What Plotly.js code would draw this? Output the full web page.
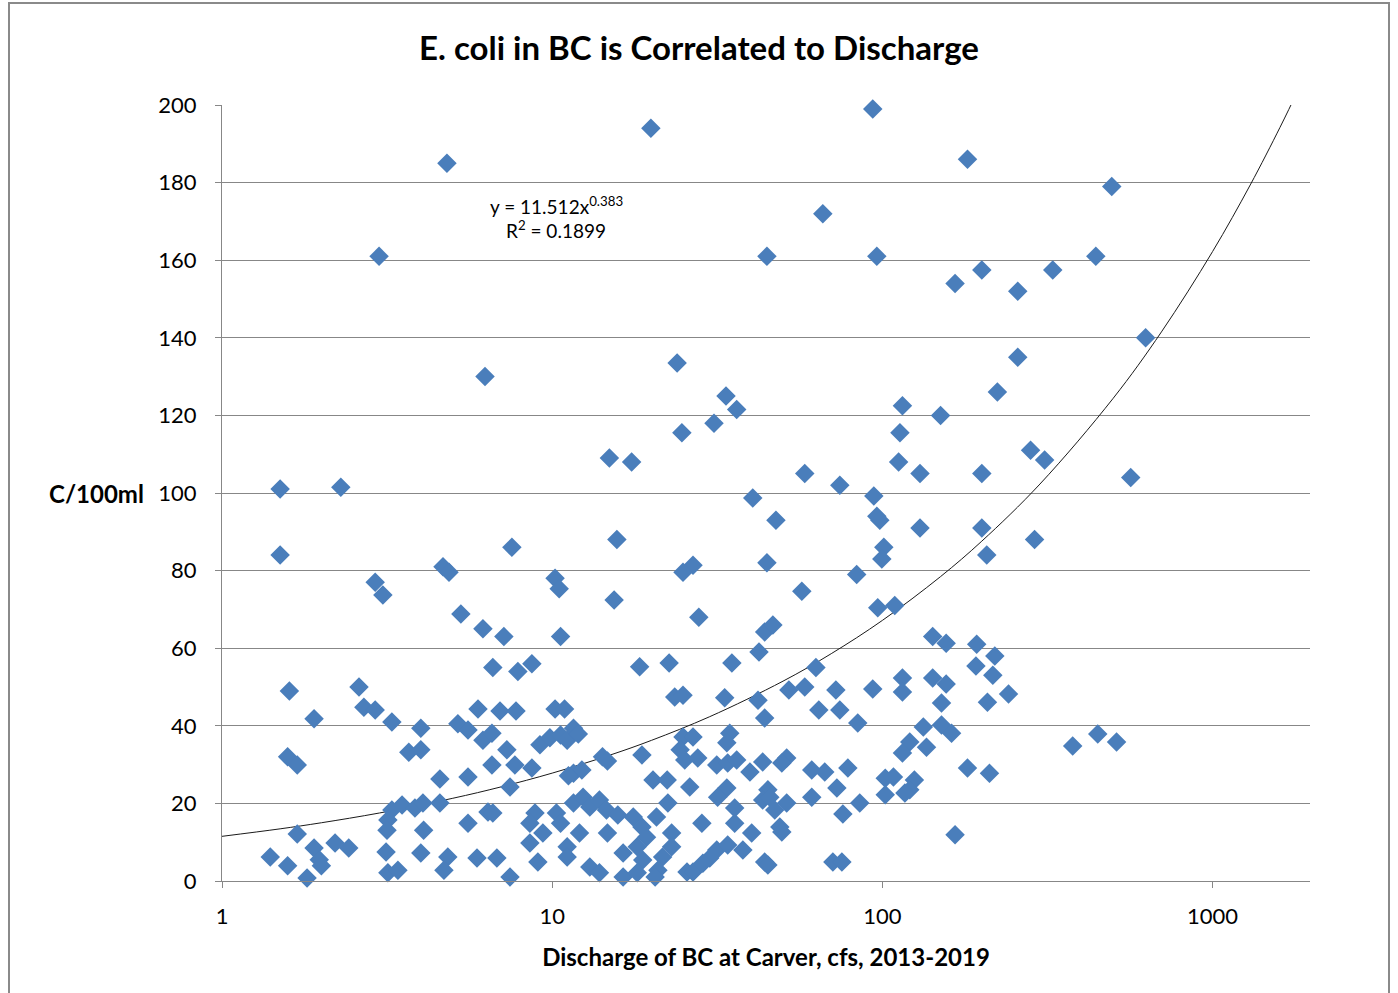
<!DOCTYPE html>
<html>
<head>
<meta charset="utf-8">
<script src="https://cdn.plot.ly/plotly-3.0.1.min.js"></script>
<style>
  html, body { margin: 0; padding: 0; background: #fff; }
  #wrap { position: relative; width: 1398px; height: 993px; }
  #chart { width: 1398px; height: 993px; }
  #frame { position: absolute; left: 8px; top: 2px; width: 1382px; height: 1000px;
           border: 2px solid #8a8a8a; pointer-events: none; box-sizing: border-box; }
</style>
</head>
<body>
<div id="wrap">
  <div id="chart"></div>
  <div id="frame"></div>
</div>
<script>
// Discharge of BC at Carver (cfs) and E. coli (C/100ml)
const discharge = [
  4.80, 19.9, 2.99, 93.5, 181, 495, 66.0, 44.7, 96.2, 443, 166, 200, 328, 257, 627, 257,
  6.26, 23.9, 33.6, 36.2, 30.9, 24.7, 115, 113, 150, 223, 281, 310, 14.9, 17.4, 112, 58.2,
  130, 200, 565, 1.50, 2.29, 74.3, 40.5, 94.2, 96.2, 98.2, 47.6, 1.50, 7.55, 15.7, 289, 130,
  200, 207, 101, 99.6, 4.67, 4.87, 10.2, 10.5, 26.7, 24.9, 44.7, 83.6, 2.91, 3.07, 57.0, 15.4,
  96.8, 109, 5.29, 27.8, 44.0, 46.6, 6.17, 7.14, 10.6, 42.3, 142, 156, 193, 219, 18.4, 22.6,
  35.0, 62.9, 192, 216, 6.61, 7.87, 8.68, 1.60, 2.60, 115, 115, 142, 156, 241, 93.5, 52.1,
  58.2, 72.3, 2.69, 2.91, 1.90, 3.27, 4.00, 5.96, 6.95, 7.77, 10.2, 10.9, 5.18, 5.56, 33.3, 42.0,
  64.2, 74.3, 84.2, 44.0, 23.5, 24.9, 151, 208, 133, 151, 162, 121, 136, 115, 377, 449,
  512, 6.17, 6.57, 1.58, 1.69, 3.68, 4.00, 4.57, 5.56, 6.57, 3.27, 3.51, 3.84, 4.06, 3.18, 3.16,
  4.08, 4.57, 5.56, 6.39, 1.69, 1.40, 1.58, 1.90, 1.97, 2.00, 1.81, 2.20, 2.42, 3.14, 3.18, 3.41,
  4.00, 4.83, 4.70, 5.92, 7.29, 7.71, 8.68, 7.45, 9.18, 9.84, 10.6, 11.1, 11.6, 12.0, 14.2, 14.7,
  18.7, 11.6, 12.3, 11.2, 20.2, 22.3, 26.1, 24.9, 26.7, 24.4, 25.2, 27.6, 34.5, 33.8, 31.5, 34.0,
  36.2, 39.7, 43.4, 33.8, 31.7, 45.0, 22.4, 6.61, 8.87, 8.56, 9.37, 8.56, 9.05, 10.3, 10.6, 11.6,
  12.4, 13.0, 13.9, 14.6, 15.8, 11.1, 11.1, 12.1, 14.7, 13.0, 13.9, 16.4, 17.6, 18.7, 19.3, 18.1,
  18.8, 16.4, 18.1, 20.7, 23.0, 23.0, 21.6, 20.9, 20.5, 28.4, 25.6, 26.7, 30.0, 28.6, 31.5, 34.0,
  35.7, 35.7, 37.8, 40.2, 43.4, 44.0, 6.80, 7.45, 51.3, 49.6, 61.1, 66.9, 78.6, 72.8, 102, 108,
  125, 121, 102, 117, 181, 211, 61.1, 45.6, 51.3, 47.2, 85.4, 75.9, 48.9, 49.6, 166, 45.0,
  70.8, 75.4
];
const ecoli = [
  185, 194, 161, 199, 186, 179, 172, 161, 161, 161, 154, 157.5, 157.5, 152, 140, 135,
  130, 133.5, 125, 121.5, 118, 115.5, 122.5, 115.5, 120, 126, 111, 108.5, 109, 108, 108, 105,
  105, 105, 104, 101, 101.5, 102, 98.7, 99.2, 94, 93, 93, 84, 86, 88, 88, 91,
  91, 84, 86, 83, 81, 79.6, 78, 75.3, 81.4, 79.6, 82, 79, 77, 73.7, 74.7, 72.4,
  70.4, 71, 68.8, 68, 64.2, 66, 65, 63, 63, 59, 63, 61.3, 61, 58, 55.2, 56.2,
  56.2, 55, 55.4, 53, 55, 54, 56, 49, 50, 52.3, 48.7, 52.3, 50.8, 48.2, 49.5, 49.2,
  50, 49.2, 44.8, 44.1, 41.8, 41, 39.4, 44.3, 43.8, 43.8, 44.3, 44.3, 40.5, 38.9, 47.2, 46.6,
  44.1, 44.1, 40.7, 42, 47.4, 47.9, 45.9, 46.1, 39.7, 40.2, 38.1, 35.8, 34.5, 33, 34.8, 37.9,
  35.8, 36.3, 38.1, 32, 29.9, 33.2, 33.8, 26.3, 26.8, 29.9, 18.3, 19.6, 18.8, 20.1, 15.7, 13.1,
  13.1, 20.1, 14.9, 17.8, 12.1, 6.2, 3.9, 8.5, 5.5, 3.9, 0.8, 9.8, 8.5, 7.5, 2.1, 2.8,
  7.2, 6.2, 2.8, 5.9, 33.8, 29.9, 29.1, 24.2, 35.1, 36.9, 37.6, 36.3, 39.4, 37.9, 32, 30.9,
  32.5, 27.8, 28.6, 27.1, 26, 26, 24.2, 37.1, 37.1, 33.8, 31.2, 31.7, 38.1, 35.6, 29.9, 30.4,
  31.2, 28.1, 30.7, 24, 21.6, 23.5, 20.1, 17.5, 17.5, 14.9, 12.4, 9.8, 4.9, 17.5, 14.9, 20.1,
  21.6, 19.1, 20.9, 18.3, 17, 8.8, 6.2, 12.4, 12.4, 3.6, 2.1, 7.2, 16.5, 13.9, 11.3, 8.8,
  5.4, 1, 2.1, 16.5, 12.4, 8.8, 6.2, 2.8, 1, 14.9, 2.3, 2.3, 5.9, 4.6, 8, 9.3,
  14.9, 18.8, 8, 12.4, 20.9, 4.9, 5.9, 1, 31.7, 30.4, 28.6, 28.1, 29.1, 24, 26.5, 26.8,
  26, 23.5, 22.2, 22.7, 29.1, 27.8, 21.6, 21.6, 20.1, 18.3, 20.1, 17.3, 13.9, 12.6, 11.9, 4.1,
  4.9, 4.9
];

// Power trendline shown on the chart: y = 11.512 x^0.383, R² = 0.1899
const trendA = 11.512;
const trendB = 0.383;
const trendR2 = 0.1899;
const trendX = [1, 1.5, 2, 3, 5, 7, 10, 15, 20, 30, 50, 70, 100, 150, 200, 300, 500, 700, 1000, 1300, 1600, 1800, 2000];
const trendY = trendX.map(x => trendA * Math.pow(x, trendB));

const xTicks = [1, 10, 100, 1000];
const xTickText = ['1', '10', '100', '1000'];

const titleText = 'E. coli in BC is Correlated to Discharge';
const xTitle = 'Discharge of BC at Carver, cfs, 2013-2019';
const yTitle = 'C/100ml';

const FONT = 'Lato, "Open Sans", sans-serif';
const GRID = '#878787';

const traces = [
  {
    type: 'scatter', mode: 'lines',
    x: trendX, y: trendY,
    line: { color: '#1a1a1a', width: 1, shape: 'spline' },
    hoverinfo: 'skip', showlegend: false
  },
  {
    type: 'scatter', mode: 'markers',
    x: discharge, y: ecoli,
    cliponaxis: false,
    marker: { symbol: 'diamond', size: 15, color: '#4A7EBB', line: { width: 0 } },
    hoverinfo: 'x+y', showlegend: false
  }
];

const layout = {
  width: 1398, height: 993,
  margin: { l: 222, r: 88, t: 105, b: 112 },
  paper_bgcolor: '#ffffff', plot_bgcolor: '#ffffff',
  font: { family: FONT, color: '#000' },
  title: {
    text: titleText,
    font: { family: FONT, size: 33, weight: 'bold', color: '#000' },
    xref: 'container', x: 0.5, xanchor: 'center',
    yref: 'container', y: 1 - 48 / 993, yanchor: 'middle'
  },
  xaxis: {
    type: 'log', range: [0, 3.295],
    tickvals: xTicks, ticktext: xTickText,
    showgrid: false, zeroline: false,
    showline: true, linecolor: GRID, linewidth: 1,
    ticks: 'outside', ticklen: 6, tickcolor: GRID,
    ticklabelstandoff: 10,
    tickfont: { family: FONT, size: 22, color: '#000' },
    title: { text: xTitle, standoff: 20, font: { family: FONT, size: 24, weight: 'bold', color: '#000' } },
    automargin: false, fixedrange: true
  },
  yaxis: {
    range: [0, 200], dtick: 20, tick0: 0,
    showgrid: true, gridcolor: GRID, gridwidth: 1, zeroline: false,
    showline: true, linecolor: GRID, linewidth: 1,
    ticks: 'outside', ticklen: 6, tickcolor: GRID,
    ticklabelstandoff: 14,
    tickfont: { family: FONT, size: 22, color: '#000' },
    automargin: false, fixedrange: true
  },
  annotations: [
    {
      xref: 'paper', yref: 'paper', x: (146 - 222) / 1088, y: 0.5,
      xanchor: 'right', yanchor: 'middle', showarrow: false,
      text: yTitle, font: { family: FONT, size: 24, weight: 'bold', color: '#000' }
    },
    {
      xref: 'paper', yref: 'paper', x: (556 - 222) / 1088, y: (881 - 205) / 776,
      xanchor: 'center', yanchor: 'middle', showarrow: false,
      text: 'y = ' + trendA + 'x<sup>' + trendB + '</sup>',
      font: { family: FONT, size: 19, color: '#000' }
    },
    {
      xref: 'paper', yref: 'paper', x: (556 - 222) / 1088, y: (881 - 229) / 776,
      xanchor: 'center', yanchor: 'middle', showarrow: false,
      text: 'R<sup>2</sup> = ' + trendR2,
      font: { family: FONT, size: 19, color: '#000' }
    }
  ]
};

Plotly.newPlot('chart', traces, layout, { displayModeBar: false, staticPlot: true });
</script>
</body>
</html>
